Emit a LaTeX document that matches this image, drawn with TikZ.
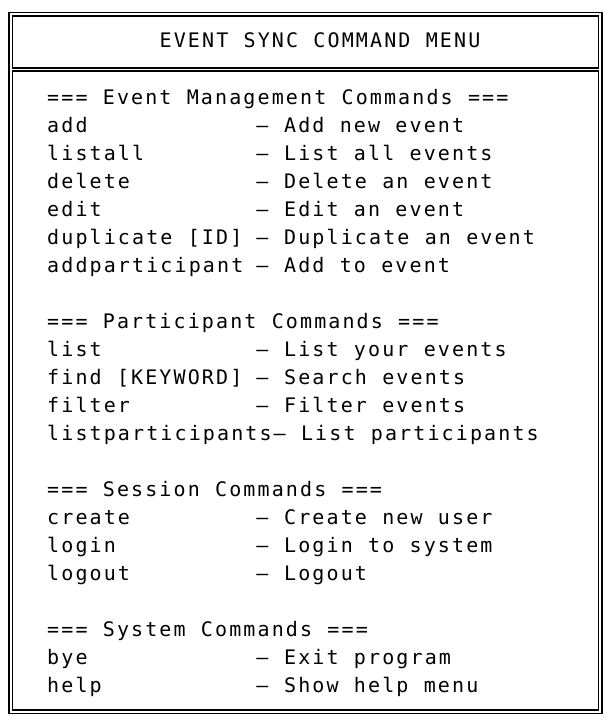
\documentclass[tikz,border=0pt]{standalone}
\usepackage{fontspec}
\newfontfamily\menufont[LetterSpace=10.6,WordSpace=1.08]{DejaVu Sans Mono}
\newlength\colw
\setlength\colw{13.94pt}
\newcommand{\entry}[2]{\makebox[15\colw][l]{#1}\makebox[2\colw][l]{–}#2}

\begin{document}
\begin{tikzpicture}[x=1pt,y=-1pt,
frameline/.style={draw=black, line width=1.1pt},
menuline/.style={anchor=base west, inner sep=0pt, font=\menufont\fontsize{20}{24}\selectfont},
titleline/.style={anchor=base, inner sep=0pt, font=\menufont\fontsize{20}{24}\selectfont},
]
\useasboundingbox (0,0) rectangle (614,728);

% double frame
\draw[frameline] (9,12.5) rectangle (602,713.5);
\draw[frameline] (12.5,16) rectangle (598.5,68);
\draw[frameline] (12.5,71) rectangle (598.5,710);

\node[titleline] (title) at (320,47) {EVENT SYNC COMMAND MENU};

\node[menuline] (evhead)   at (47,104) {=== Event Management Commands ===};
\node[menuline] (add)      at (47,132) {\entry{add}{Add new event}};
\node[menuline] (listall)  at (47,160) {\entry{listall}{List all events}};
\node[menuline] (delete)   at (47,188) {\entry{delete}{Delete an event}};
\node[menuline] (edit)     at (47,216) {\entry{edit}{Edit an event}};
\node[menuline] (dup)      at (47,244) {\entry{duplicate [ID]}{Duplicate an event}};
\node[menuline] (addpart)  at (47,272) {\entry{addparticipant}{Add to event}};

\node[menuline] (parthead) at (47,328) {=== Participant Commands ===};
\node[menuline] (list)     at (47,356) {\entry{list}{List your events}};
\node[menuline] (find)     at (47,384) {\entry{find [KEYWORD]}{Search events}};
\node[menuline] (filter)   at (47,412) {\entry{filter}{Filter events}};
\node[menuline] (listpart) at (47,440) {listparticipants– List participants};

\node[menuline] (seshead)  at (47,496) {=== Session Commands ===};
\node[menuline] (create)   at (47,524) {\entry{create}{Create new user}};
\node[menuline] (login)    at (47,552) {\entry{login}{Login to system}};
\node[menuline] (logout)   at (47,580) {\entry{logout}{Logout}};

\node[menuline] (syshead)  at (47,636) {=== System Commands ===};
\node[menuline] (bye)      at (47,664) {\entry{bye}{Exit program}};
\node[menuline] (help)     at (47,692) {\entry{help}{Show help menu}};

\end{tikzpicture}
\end{document}
